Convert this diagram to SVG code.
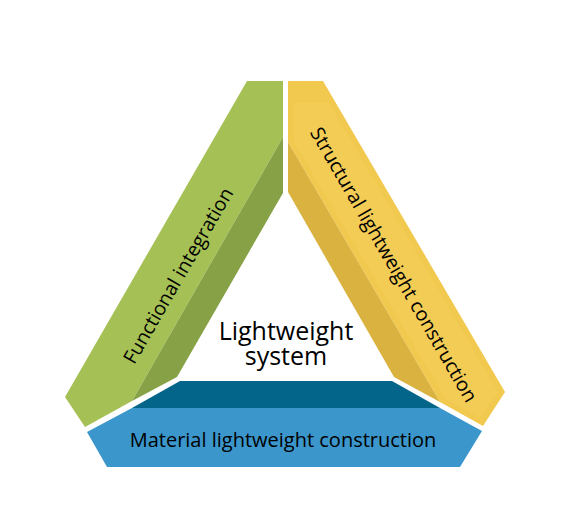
<svg xmlns="http://www.w3.org/2000/svg" width="566" height="513" viewBox="0 0 566 513">
<style>
.lbl{font-family:"Open Sans","Noto Sans","Liberation Sans",sans-serif;fill:#000;}
.g1{fill:#A5C054;}
.g2{fill:#87A246;}
.y1{fill:#F1C94E;}
.y2{fill:#D9B240;}
.y3{fill:#F3CC55;}
.b1{fill:#3B96CC;}
.b2{fill:#03658A;}
</style>
<rect width="566" height="513" fill="#FFFFFF"/>
<g id="functional-integration">
<polygon class="g1" points="247,81 283,81 283,137 132,401 85,427 65,397"/>
<polygon class="g2" points="283,137 283,193 177,377 132,401"/>
<text class="lbl" font-size="19.5" text-anchor="middle" transform="translate(184,279) rotate(-60)">Functional integration</text>
</g>
<g id="structural-lightweight-construction">
<polygon class="y1" points="288,81 323,81 505,392 483,426 440,402 288,142"/>
<polygon class="y3" points="294,103 329,103 498,392 480,418 446,399 294,142"/>
<polygon class="y2" points="288,142 288,192 394,377 440,402"/>
<text class="lbl" font-size="19.5" text-anchor="middle" transform="translate(388,268) rotate(60)">Structural lightweight construction</text>
</g>
<g id="material-lightweight-construction">
<polygon class="b1" points="87,432 132,408 440,408 482,431 460,467 107,467"/>
<polygon class="b2" points="180,381 392,381 440,408 132,408"/>
<text class="lbl" font-size="20" text-anchor="middle" x="283" y="447">Material lightweight construction</text>
</g>
<g id="lightweight-system">
<text class="lbl" font-size="25" text-anchor="middle"><tspan x="286" y="340">Lightweight</tspan><tspan x="286" y="365">system</tspan></text>
</g>
<g id="connectors"/>
</svg>
